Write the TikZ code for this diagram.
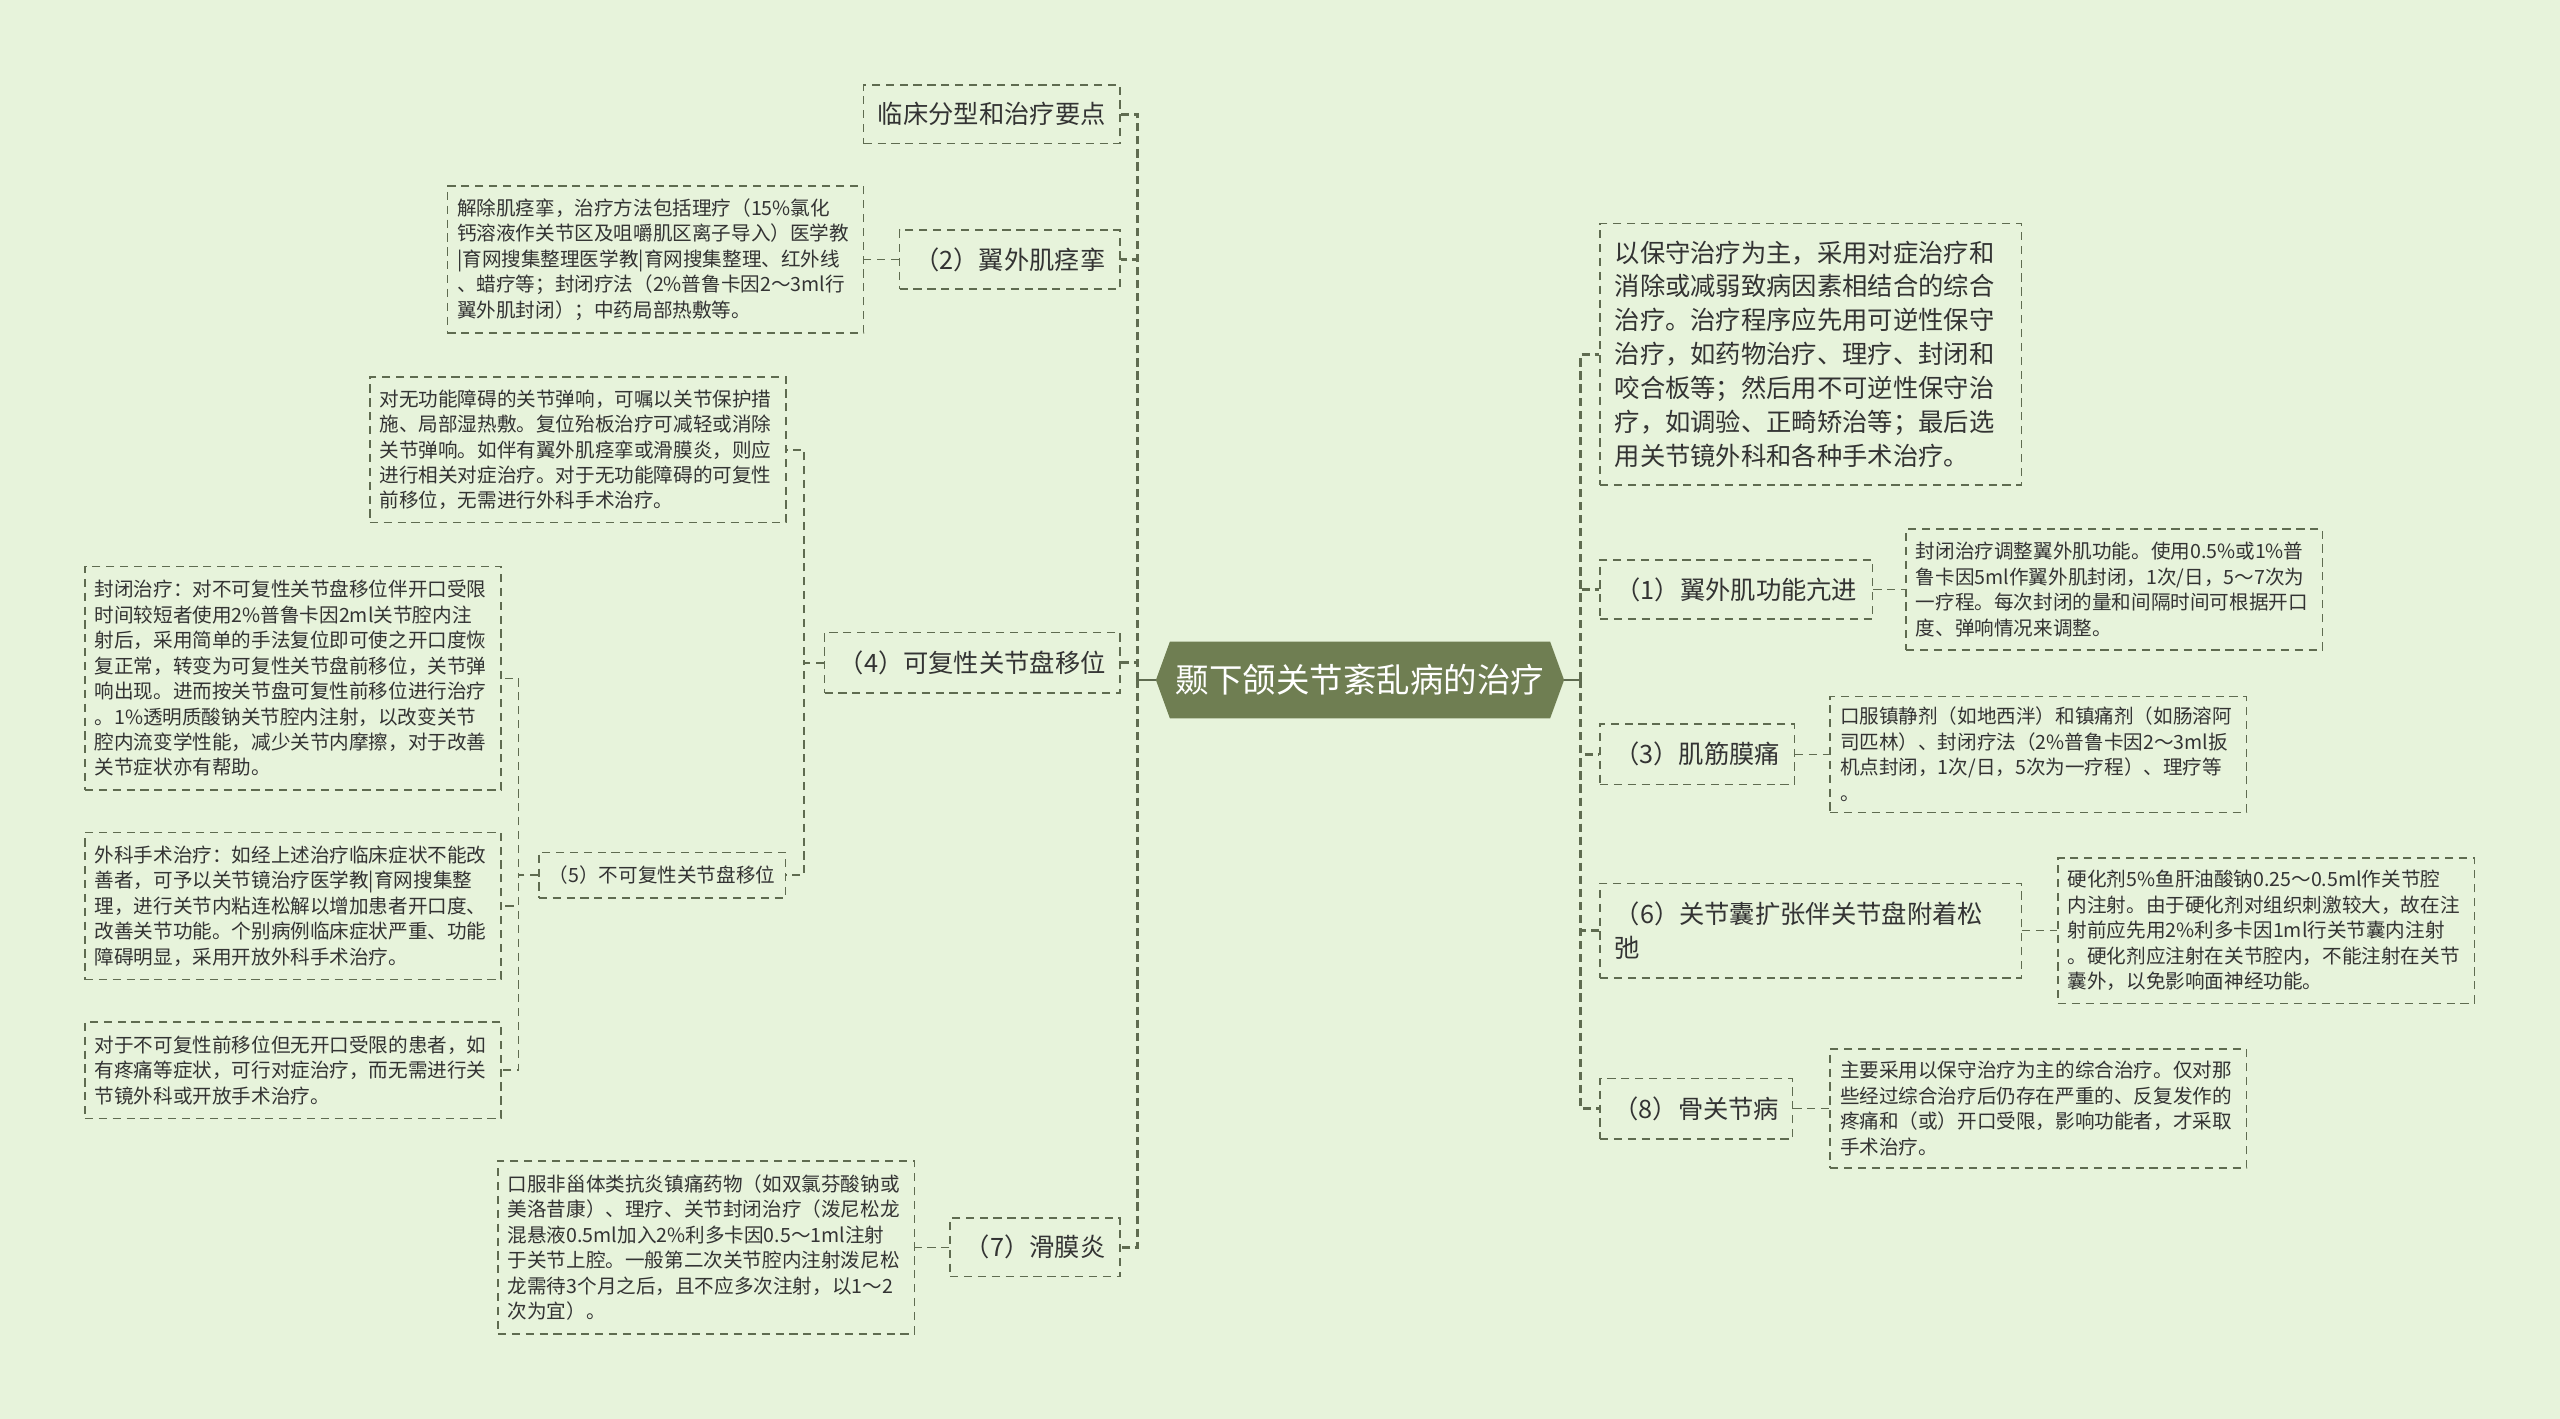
\documentclass[tikz,border=0pt]{standalone}
\usepackage{fontspec}
\setmainfont{Noto Sans CJK SC}
\usetikzlibrary{shapes.symbols}

\definecolor{bgc}{HTML}{E7F3DB}
\definecolor{linec}{HTML}{5F6B50}
\definecolor{rootc}{HTML}{6F7E52}
\definecolor{txtc}{HTML}{333333}

\tikzset{
  box/.style={draw=linec,line width=0.9pt,dash pattern=on 5pt off 3.5pt,text=txtc,inner sep=0pt},
  branch/.style={box,font=\fontsize{15.5}{20.5}\selectfont,align=center},
  leaf/.style={box,font=\fontsize{12}{15.6}\selectfont,align=left,text width=243pt,inner xsep=6pt},
  link/.style={draw=linec,line width=0.9pt,dash pattern=on 5pt off 3.5pt},
  trunk/.style={draw=linec,line width=1.8pt,dash pattern=on 5pt off 3pt},
}

\begin{document}
\begin{tikzpicture}[x=1pt,y=-1pt]
  \fill[bgc] (0,0) rectangle (1568,869);
  \useasboundingbox (0,0) rectangle (1568,869);

  \node[shape=signal,signal to=west and east,signal pointer angle=140,fill=rootc,text=white,
        minimum width=250pt,minimum height=47pt,inner sep=0pt,
        font=\fontsize{20.5}{24}\selectfont] (root) at (833,416.5) {颞下颌关节紊乱病的治疗};

  \node[branch,minimum width=157pt,minimum height=36pt] (c0) at (607.5,70) {临床分型和治疗要点};
  \node[branch,minimum width=135pt,minimum height=36pt] (n2) at (618.5,159) {（2）翼外肌痉挛};
  \node[branch,minimum width=181pt,minimum height=37pt] (n4) at (595.5,406) {（4）可复性关节盘移位};
  \node[branch,minimum width=151pt,minimum height=28pt,font=\fontsize{12}{15}\selectfont] (n5) at (405.5,536) {（5）不可复性关节盘移位};
  \node[branch,minimum width=104pt,minimum height=36pt] (n7) at (634,764) {（7）滑膜炎};

  \node[leaf,minimum height=90pt] (t2) at (401.5,159) {解除肌痉挛，治疗方法包括理疗（15\%氯化\\钙溶液作关节区及咀嚼肌区离子导入）医学教\\|育网搜集整理医学教|育网搜集整理、红外线\\、蜡疗等；封闭疗法（2\%普鲁卡因2～3ml行\\翼外肌封闭）；中药局部热敷等。};
  \node[leaf,minimum height=89pt] (t4) at (354,275.5) {对无功能障碍的关节弹响，可嘱以关节保护措\\施、局部湿热敷。复位殆板治疗可减轻或消除\\关节弹响。如伴有翼外肌痉挛或滑膜炎，则应\\进行相关对症治疗。对于无功能障碍的可复性\\前移位，无需进行外科手术治疗。};
  \node[leaf,minimum height=137pt] (t5a) at (179.5,415.5) {封闭治疗：对不可复性关节盘移位伴开口受限\\时间较短者使用2\%普鲁卡因2ml关节腔内注\\射后，采用简单的手法复位即可使之开口度恢\\复正常，转变为可复性关节盘前移位，关节弹\\响出现。进而按关节盘可复性前移位进行治疗\\。1\%透明质酸钠关节腔内注射，以改变关节\\腔内流变学性能，减少关节内摩擦，对于改善\\关节症状亦有帮助。};
  \node[leaf,minimum height=90pt] (t5b) at (179.5,555) {外科手术治疗：如经上述治疗临床症状不能改\\善者，可予以关节镜治疗医学教|育网搜集整\\理，进行关节内粘连松解以增加患者开口度、\\改善关节功能。个别病例临床症状严重、功能\\障碍明显，采用开放外科手术治疗。};
  \node[leaf,minimum height=59pt] (t5c) at (179.5,655.5) {对于不可复性前移位但无开口受限的患者，如\\有疼痛等症状，可行对症治疗，而无需进行关\\节镜外科或开放手术治疗。};
  \node[leaf,minimum height=106pt] (t7) at (432.5,764) {口服非甾体类抗炎镇痛药物（如双氯芬酸钠或\\美洛昔康）、理疗、关节封闭治疗（泼尼松龙\\混悬液0.5ml加入2\%利多卡因0.5～1ml注射\\于关节上腔。一般第二次关节腔内注射泼尼松\\龙需待3个月之后，且不应多次注射，以1～2\\次为宜）。};

  \node[leaf,minimum height=160pt,text width=240pt,inner xsep=9pt,font=\fontsize{15.5}{20.8}\selectfont] (r0) at (1109,217) {以保守治疗为主，采用对症治疗和\\消除或减弱致病因素相结合的综合\\治疗。治疗程序应先用可逆性保守\\治疗，如药物治疗、理疗、封闭和\\咬合板等；然后用不可逆性保守治\\疗，如调验、正畸矫治等；最后选\\用关节镜外科和各种手术治疗。};
  \node[branch,minimum width=167pt,minimum height=36pt] (n1) at (1063.5,361) {（1）翼外肌功能亢进};
  \node[branch,minimum width=119pt,minimum height=37pt] (n3) at (1039.5,462) {（3）肌筋膜痛};
  \node[branch,align=left,text width=240pt,inner xsep=9pt,minimum height=58pt] (n6) at (1109,570) {（6）关节囊扩张伴关节盘附着松\\弛};
  \node[branch,minimum width=118pt,minimum height=37pt] (n8) at (1039,679) {（8）骨关节病};

  \node[leaf,minimum height=74pt] (t1) at (1295,361) {封闭治疗调整翼外肌功能。使用0.5\%或1\%普\\鲁卡因5ml作翼外肌封闭，1次/日，5～7次为\\一疗程。每次封闭的量和间隔时间可根据开口\\度、弹响情况来调整。};
  \node[leaf,minimum height=71pt] (t3) at (1248.5,462) {口服镇静剂（如地西泮）和镇痛剂（如肠溶阿\\司匹林）、封闭疗法（2\%普鲁卡因2～3ml扳\\机点封闭，1次/日，5次为一疗程）、理疗等\\。};
  \node[leaf,minimum height=89pt] (t6) at (1388,570) {硬化剂5\%鱼肝油酸钠0.25～0.5ml作关节腔\\内注射。由于硬化剂对组织刺激较大，故在注\\射前应先用2\%利多卡因1ml行关节囊内注射\\。硬化剂应注射在关节腔内，不能注射在关节\\囊外，以免影响面神经功能。};
  \node[leaf,minimum height=73pt] (t8) at (1248.5,679) {主要采用以保守治疗为主的综合治疗。仅对那\\些经过综合治疗后仍存在严重的、反复发作的\\疼痛和（或）开口受限，影响功能者，才采取\\手术治疗。};

  \draw[linec,line width=1.8pt] (root.west) -- ++(-11,0);
  \draw[linec,line width=1.8pt] (root.east) -- ++(10,0);
  \draw[trunk] (root.west) ++(-11,0) |- (c0.east);
  \draw[trunk] (root.west) ++(-11,0) |- (n2.east);
  \draw[trunk] (root.west) ++(-11,0) |- (n4.east);
  \draw[trunk] (root.west) ++(-11,0) |- (n7.east);
  \draw[trunk] (root.east) ++(10,0) |- (r0.west);
  \draw[trunk] (root.east) ++(10,0) |- (n1.west);
  \draw[trunk] (root.east) ++(10,0) |- (n3.west);
  \draw[trunk] (root.east) ++(10,0) |- (n6.west);
  \draw[trunk] (root.east) ++(10,0) |- (n8.west);

  \draw[link] (n2.west) -- (t2.east);
  \draw[link] (n7.west) -- (t7.east);
  \draw[link] (n4.west) -- ++(-12,0) |- (t4.east);
  \draw[link] (n4.west) -- ++(-12,0) |- (n5.east);
  \draw[link] (n5.west) -- ++(-12,0) |- (t5a.east);
  \draw[link] (n5.west) -- ++(-12,0) |- (t5b.east);
  \draw[link] (n5.west) -- ++(-12,0) |- (t5c.east);

  \draw[link] (n1.east) -- (t1.west);
  \draw[link] (n3.east) -- (t3.west);
  \draw[link] (n6.east) -- (t6.west);
  \draw[link] (n8.east) -- (t8.west);
\end{tikzpicture}
\end{document}
